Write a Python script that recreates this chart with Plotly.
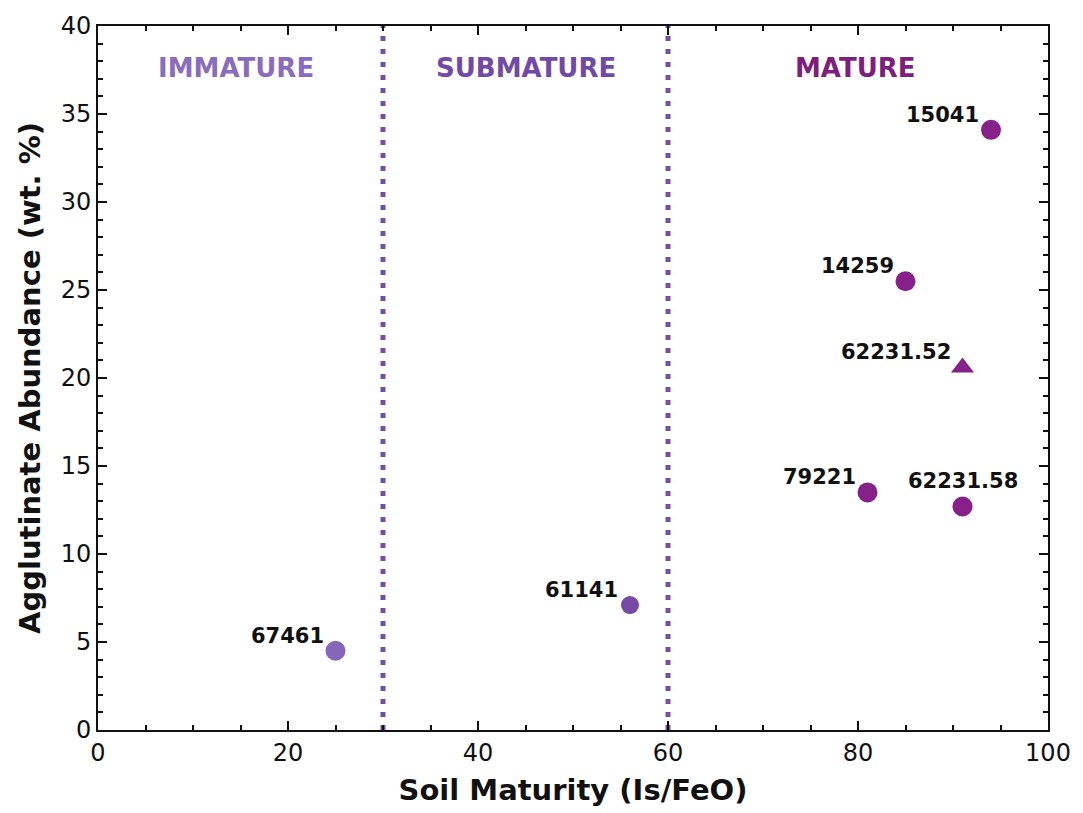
import plotly.graph_objects as go

# Soil samples: maturity index (Is/FeO) vs agglutinate abundance (wt. %)
samples = ["67461", "61141", "79221", "62231.58", "14259", "15041", "62231.52"]
maturity = [25, 56, 81, 91, 85, 94, 91]
agglutinate = [4.5, 7.1, 13.5, 12.7, 25.5, 34.1, 20.6]
symbols = ["circle", "circle", "circle", "circle", "circle", "circle", "triangle-up"]
classes = ["immature", "submature", "mature", "mature", "mature", "mature", "mature"]

# Maturity class boundaries and region labels
boundaries = [30, 60]
region_names = ["IMMATURE", "SUBMATURE", "MATURE"]
region_x = [14.5, 45, 79.7]
region_y = 37.6

class_colors = {"immature": "#8467b8", "submature": "#774aa6", "mature": "#86218a"}
region_colors = ["#8a6cbf", "#7149a6", "#7e1f7f"]
line_color = "#7350a8"

FONT = "DejaVu Sans"

fig = go.Figure()

fig.add_trace(go.Scatter(
    x=maturity,
    y=agglutinate,
    mode="markers",
    marker=dict(
        symbol=symbols,
        size=[20, 18, 20, 20, 20, 20, 20],
        color=[class_colors[c] for c in classes],
        opacity=1,
        line=dict(width=0),
    ),
    showlegend=False,
    hoverinfo="skip",
))

# Dotted boundary lines between maturity classes
for b in boundaries:
    fig.add_shape(
        type="line", xref="x", yref="y",
        x0=b, x1=b, y0=0, y1=40,
        line=dict(color=line_color, width=5, dash="5px,8px"),
        layer="below",
    )

# Region labels
for name, rx, col in zip(region_names, region_x, region_colors):
    fig.add_annotation(
        x=rx, y=region_y, text=f"<b>{name}</b>", showarrow=False,
        xanchor="center", yanchor="middle",
        font=dict(family=FONT, size=26, color=col),
    )

# Sample labels
for name, x, y in zip(samples, maturity, agglutinate):
    if name == "62231.58":
        fig.add_annotation(
            x=x, y=y, text=f"<b>{name}</b>", showarrow=False,
            xanchor="center", yanchor="middle", xshift=0, yshift=25,
            font=dict(family=FONT, size=21, color="#111111"),
        )
    else:
        fig.add_annotation(
            x=x, y=y, text=f"<b>{name}</b>", showarrow=False,
            xanchor="right", yanchor="middle", xshift=-10, yshift=15,
            font=dict(family=FONT, size=21, color="#111111"),
        )

axis_common = dict(
    showgrid=False,
    zeroline=False,
    showline=True,
    linecolor="#111111",
    linewidth=2,
    mirror="ticks",
    ticks="inside",
    ticklen=9,
    tickwidth=2,
    tickcolor="#111111",
    tickfont=dict(family=FONT, size=24, color="#111111"),
)

fig.update_xaxes(
    range=[0, 100],
    tickvals=[0, 20, 40, 60, 80, 100],
    minor=dict(dtick=5, ticks="inside", ticklen=5, tickwidth=1.5, tickcolor="#111111"),
    title=dict(text="<b>Soil Maturity (Is/FeO)</b>",
               font=dict(family=FONT, size=29, color="#111111"), standoff=14),
    **axis_common,
)
fig.update_yaxes(
    range=[0, 40],
    tickvals=[0, 5, 10, 15, 20, 25, 30, 35, 40],
    minor=dict(dtick=1, ticks="inside", ticklen=5, tickwidth=1.5, tickcolor="#111111"),
    title=dict(text="<b>Agglutinate Abundance (wt. %)</b>",
               font=dict(family=FONT, size=29, color="#111111"), standoff=12),
    **axis_common,
)

fig.update_layout(
    width=1083,
    height=813,
    margin=dict(l=98, r=34, t=22, b=82),
    plot_bgcolor="white",
    paper_bgcolor="white",
    font=dict(family=FONT),
)

fig.write_html("out.html")
